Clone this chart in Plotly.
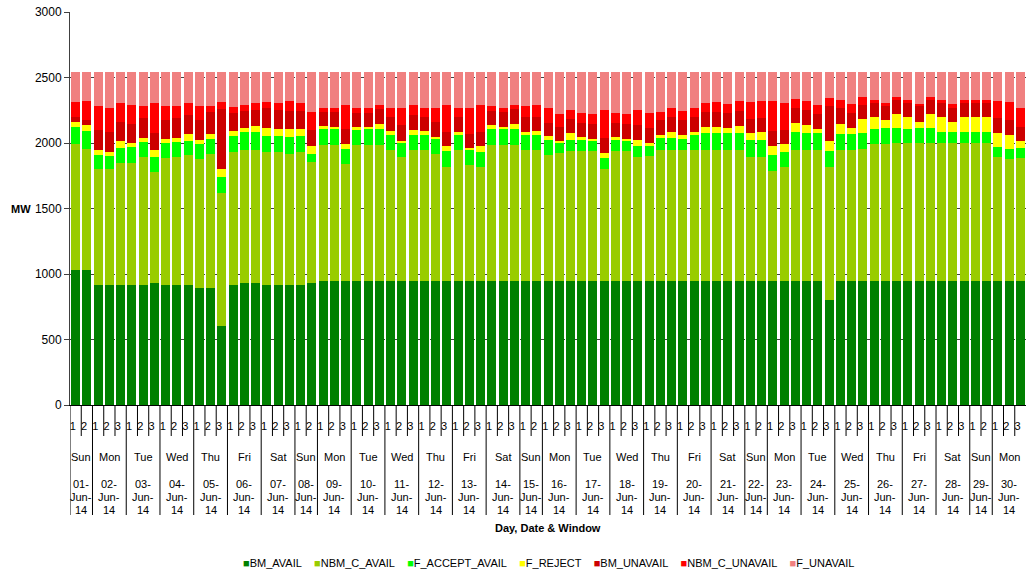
import plotly.graph_objects as go

FONT = "Arial, Liberation Sans, sans-serif"

DAYS = ["Sun", "Mon", "Tue", "Wed", "Thu", "Fri", "Sat", "Sun", "Mon", "Tue",
        "Wed", "Thu", "Fri", "Sat", "Sun", "Mon", "Tue", "Wed", "Thu", "Fri",
        "Sat", "Sun", "Mon", "Tue", "Wed", "Thu", "Fri", "Sat", "Sun", "Mon"]
DATES = ["01-Jun-14", "02-Jun-14", "03-Jun-14", "04-Jun-14", "05-Jun-14",
         "06-Jun-14", "07-Jun-14", "08-Jun-14", "09-Jun-14", "10-Jun-14",
         "11-Jun-14", "12-Jun-14", "13-Jun-14", "14-Jun-14", "15-Jun-14",
         "16-Jun-14", "17-Jun-14", "18-Jun-14", "19-Jun-14", "20-Jun-14",
         "21-Jun-14", "22-Jun-14", "23-Jun-14", "24-Jun-14", "25-Jun-14",
         "26-Jun-14", "27-Jun-14", "28-Jun-14", "29-Jun-14", "30-Jun-14"]
WINDOWS_PER_DAY = [2, 3, 3, 3, 3, 3, 3, 2, 3, 3, 3, 3, 3, 3, 2,
                   3, 3, 3, 3, 3, 3, 2, 3, 3, 3, 3, 3, 3, 2, 3]

BM_AVAIL = [1028, 1028, 913, 913, 913, 913, 913, 931, 913, 913, 913, 895, 895, 600, 913,
            931, 931, 913, 913, 913, 913, 931, 945, 945, 945, 945, 945, 945, 945, 945,
            945, 945, 945, 945, 945, 945, 945, 945, 945, 945, 945, 945, 945, 945, 945,
            945, 945, 945, 945, 945, 945, 945, 945, 945, 945, 945, 945, 945, 945, 945,
            945, 945, 945, 945, 945, 945, 945, 800, 945, 945, 945, 945, 945, 945, 945,
            945, 945, 945, 945, 945, 945, 945, 945, 945, 945]
NBM_C_AVAIL = [964, 926, 891, 891, 931, 936, 982, 845, 970, 982, 992, 980, 1023, 1020, 1020,
               1019, 1019, 1022, 1022, 1005, 1022, 924, 1042, 1042, 895, 1040, 1042, 1042, 1004, 948,
               1004, 1004, 971, 874, 1004, 884, 874, 1042, 1042, 1042, 1000, 1000, 966, 981, 996,
               996, 996, 859, 996, 996, 948, 956, 1004, 1004, 1004, 1004, 1004, 1004, 1004, 1004,
               948, 948, 843, 869, 1004, 1004, 1004, 1014, 1004, 1004, 1012, 1047, 1047, 1055, 1055,
               1055, 1055, 1055, 1055, 1055, 1055, 1055, 948, 930, 940]
F_ACCEPT_AVAIL = [132, 135, 107, 99, 115, 118, 112, 119, 114, 112, 112, 117, 115, 117, 120,
                  131, 131, 121, 121, 125, 121, 61, 119, 119, 116, 111, 119, 122, 109, 112,
                  114, 114, 117, 117, 114, 115, 112, 119, 119, 119, 113, 113, 114, 74, 81,
                  81, 81, 81, 84, 74, 81, 73, 91, 91, 84, 117, 124, 124, 124, 124,
                  132, 132, 123, 120, 132, 124, 124, 127, 117, 117, 116, 114, 122, 114, 106,
                  114, 114, 81, 81, 81, 81, 81, 74, 76, 74]
F_REJECT = [38, 50, 38, 31, 56, 33, 33, 54, 36, 33, 49, 30, 33, 61, 35,
            35, 51, 60, 50, 63, 50, 58, 26, 16, 36, 26, 16, 38, 33, 12,
            38, 28, 15, 43, 20, 18, 43, 33, 18, 41, 23, 33, 25, 17, 51,
            26, 11, 41, 23, 18, 51, 26, 18, 41, 25, 15, 49, 49, 41, 59,
            48, 56, 66, 58, 74, 66, 33, 74, 81, 48, 107, 89, 58, 107, 89,
            48, 107, 114, 81, 114, 114, 114, 106, 107, 56]
BM_UNAVAIL = [36, 36, 150, 147, 142, 147, 150, 124, 139, 150, 150, 155, 167, 460, 142,
              125, 122, 148, 145, 140, 140, 127, 106, 111, 117, 109, 109, 109, 107, 117,
              115, 107, 112, 104, 115, 104, 109, 107, 114, 109, 117, 107, 105, 107, 107,
              107, 114, 114, 107, 114, 114, 114, 114, 117, 114, 117, 116, 116, 117, 114,
              107, 109, 114, 107, 109, 115, 115, 264, 117, 117, 107, 107, 107, 106, 107,
              125, 106, 107, 107, 107, 107, 107, 115, 114, 107]
NBM_C_UNAVAIL = [112, 145, 180, 190, 147, 140, 89, 231, 107, 89, 88, 102, 46, 56, 46,
                 46, 48, 51, 51, 74, 56, 137, 33, 31, 180, 40, 33, 33, 73, 130,
                 73, 73, 104, 206, 73, 198, 206, 33, 26, 33, 81, 89, 116, 97, 74,
                 73, 74, 214, 73, 74, 115, 114, 66, 73, 74, 73, 64, 74, 66, 74,
                 132, 130, 229, 203, 73, 66, 66, 66, 63, 63, 66, 25, 25, 26, 25,
                 7, 26, 25, 25, 25, 25, 25, 132, 140, 149]
F_UNAVAIL = [235, 225, 266, 274, 241, 258, 266, 241, 266, 266, 241, 266, 266, 231, 266,
             258, 243, 230, 243, 225, 243, 307, 274, 281, 256, 274, 281, 256, 274, 281,
             256, 274, 281, 256, 274, 281, 256, 266, 281, 256, 266, 258, 274, 324, 291,
             317, 324, 291, 317, 324, 291, 317, 307, 274, 299, 274, 243, 233, 248, 225,
             233, 225, 225, 243, 208, 225, 258, 200, 218, 251, 192, 218, 241, 192, 218,
             251, 192, 218, 251, 218, 218, 218, 225, 233, 274]

SERIES = [
    ("BM_AVAIL", BM_AVAIL, "#008000"),
    ("NBM_C_AVAIL", NBM_C_AVAIL, "#99CC00"),
    ("F_ACCEPT_AVAIL", F_ACCEPT_AVAIL, "#00FF00"),
    ("F_REJECT", F_REJECT, "#FFFF00"),
    ("BM_UNAVAIL", BM_UNAVAIL, "#CC0000"),
    ("NBM_C_UNAVAIL", NBM_C_UNAVAIL, "#FF0000"),
    ("F_UNAVAIL", F_UNAVAIL, "#F08080"),
]

# one bar per (day, window)
window_labels = []
day_starts = []
for n in WINDOWS_PER_DAY:
    day_starts.append(len(window_labels))
    window_labels += [str(w) for w in range(1, n + 1)]
positions = list(range(len(window_labels)))

fig = go.Figure()
for name, values, color in SERIES:
    fig.add_trace(go.Bar(x=positions, y=values, name=name, marker_color=color,
                         marker_line_width=0, showlegend=False))


def separator(x, length):
    return dict(type="line", xref="x", yref="paper", ysizemode="pixel", yanchor=0,
                x0=x, x1=x, y0=0, y1=-length, line=dict(color="black", width=1))


# lines under the axis: short between windows, long between days
shapes = [separator(-0.5, 110)]
for i in positions[1:]:
    shapes.append(separator(i - 0.5, 110 if i in day_starts else 31))


def below_axis(x, shift, text, **kw):
    return dict(x=x, y=0, xref="x", yref="paper", yanchor="middle", yshift=shift,
                text=text, showarrow=False, font=dict(size=11), **kw)


annotations = []
for day, date, start, n in zip(DAYS, DATES, day_starts, WINDOWS_PER_DAY):
    xc = start + (n - 1) / 2
    annotations.append(below_axis(xc, -52, day))
    for k, part in enumerate(date.split("-")):
        suffix = "-" if k < 2 else ""
        annotations.append(below_axis(xc, -79 - 13 * k, part + suffix))

annotations.append(dict(x=0, y=1500, xref="paper", yref="y", xanchor="right",
                        xshift=-37, text="<b>MW</b>", showarrow=False,
                        font=dict(size=11)))
annotations.append(dict(x=0.5, y=0, xref="paper", yref="paper", yanchor="middle",
                        yshift=-123, text="<b>Day, Date &amp; Window</b>", showarrow=False,
                        font=dict(size=11)))

# compact legend row: coloured square right before each name
legend_text = "&nbsp;&nbsp;&nbsp;&nbsp;".join(
    f"<span style='color:{color}'>\u25a0</span>{name}" for name, _, color in SERIES
)
annotations.append(dict(x=0.5, y=0, xref="paper", yref="paper", yanchor="middle",
                        yshift=-158, text=legend_text, showarrow=False,
                        font=dict(size=11)))

fig.update_layout(
    barmode="stack",
    bargap=0.2,
    width=1026,
    height=573,
    margin=dict(l=70, r=0, t=12, b=168),
    plot_bgcolor="white",
    paper_bgcolor="white",
    font=dict(family=FONT, size=11, color="black"),
    shapes=shapes,
    annotations=annotations,
    showlegend=False,
)
fig.update_xaxes(range=[-0.5, len(positions) - 0.5], tickmode="array",
                 tickvals=[p - 0.25 for p in positions], ticktext=window_labels,
                 ticks="", showgrid=False, showline=True, linecolor="black",
                 ticklabelstandoff=11, zeroline=False)
fig.update_yaxes(range=[0, 3000], dtick=500, ticks="outside", ticklen=5, tickcolor="#404040",
                 showline=True, linecolor="#404040", showgrid=True, gridcolor="#404040",
                 griddash="dash", gridwidth=1, zeroline=False, tickfont=dict(size=12))

fig.write_html("out.html", config={"displayModeBar": False},
               post_script="document.body.style.margin = '0';")
